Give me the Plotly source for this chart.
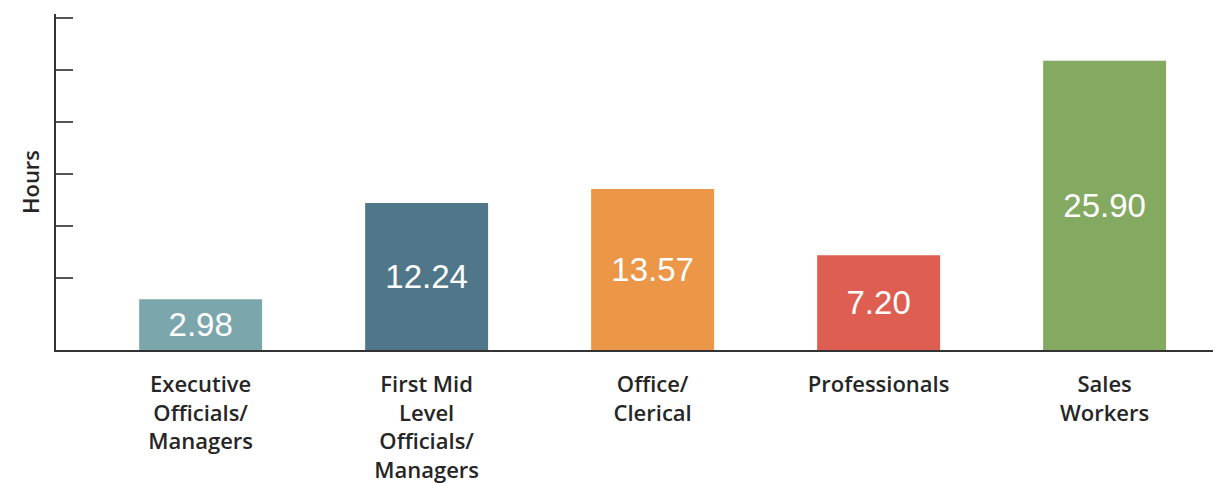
import plotly.graph_objects as go

categories = ["Executive<br>Officials/<br>Managers", "First Mid<br>Level<br>Officials/<br>Managers",
              "Office/<br>Clerical", "Professionals", "Sales<br>Workers"]
hours = [2.98, 12.24, 13.57, 7.20, 25.90]
colors = ["#7aa6ac", "#507689", "#ec9648", "#de5f52", "#84a961"]
tick_values = [5, 10, 15, 20, 25, 30]

Y_MIN, Y_MAX = -1.9, 30.4

fig = go.Figure(go.Bar(
    x=categories,
    y=[v - Y_MIN for v in hours],
    base=Y_MIN,
    marker=dict(color=colors, line=dict(width=0)),
    text=[f"{v:.2f}" for v in hours],
    textposition="inside",
    insidetextanchor="middle",
    textangle=0,
    textfont=dict(family="Liberation Sans Narrow, Liberation Sans, sans-serif", size=33, color="white"),
    width=0.544,
    hoverinfo="skip",
))

# page body has an 8px default margin, so the figure is sized/offset to compensate
fig.update_layout(
    width=1213, height=475,
    margin=dict(l=48, r=0, t=6, b=133, autoexpand=False),
    paper_bgcolor="white", plot_bgcolor="white",
    showlegend=False,
    xaxis=dict(
        range=[-0.64, 4.515], automargin=False,
        showline=True, linecolor="#333333", linewidth=1.5,
        ticks="", showgrid=False, zeroline=False,
        tickfont=dict(family="Open Sans, sans-serif", size=22, color="#262626", weight=600),
        ticklabelstandoff=14,
    ),
    yaxis=dict(
        range=[Y_MIN, Y_MAX], automargin=False,
        showline=True, linecolor="#333333", linewidth=1.5,
        showgrid=False, zeroline=False,
        ticks="inside", ticklen=17, tickwidth=1.5, tickcolor="#555555",
        tickvals=tick_values, showticklabels=False,
        title=dict(text="Hours", font=dict(family="Open Sans, sans-serif", size=22, color="#262626", weight=600), standoff=9),
    ),
)

fig.write_html("out.html")
